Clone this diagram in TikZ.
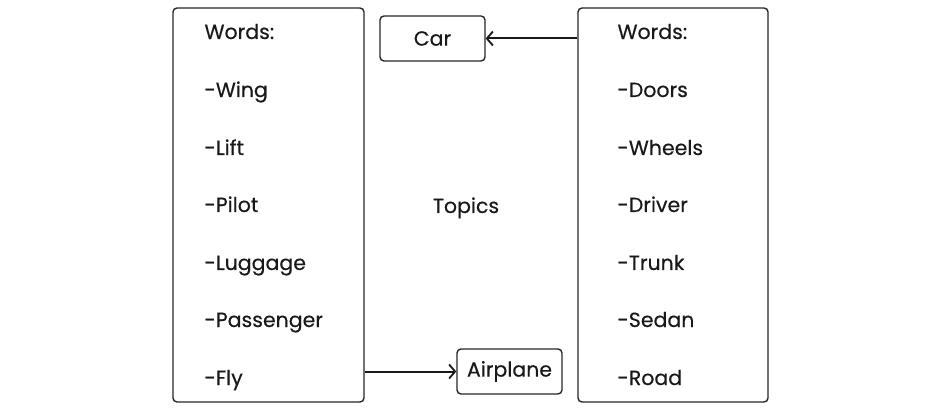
\documentclass[tikz,border=0pt]{standalone}
\usepackage{fontspec}
\setmainfont{Poppins}[BoldFont=Poppins,BoldFeatures={FakeBold=0.35}]
\usetikzlibrary{arrows.meta}
\begin{document}
\begin{tikzpicture}[x=1pt,y=-1pt,
  box/.style={draw=black!85,line width=1.4pt,rounded corners=4pt},
  word/.style={anchor=base west,font=\fontsize{20.5}{24}\bfseries\selectfont,text=black!90},
  lbl/.style={font=\fontsize{20.5}{24}\bfseries\selectfont,text=black!90},
  conn/.style={draw=black!90,line width=2pt,-{Straight Barb[length=6pt,width=14pt,line width=1.8pt]}}]
\useasboundingbox (0,0) rectangle (944,411);
% boxes
\node[box,minimum width=191pt,minimum height=394pt,inner sep=0pt] (left) at (268.5,205) {};
\node[box,minimum width=190pt,minimum height=394pt,inner sep=0pt] (right) at (673,205) {};
\node[box,lbl,minimum width=105pt,minimum height=45pt,inner sep=0pt] (car) at (432.5,38.5) {Car};
\node[box,lbl,minimum width=105pt,minimum height=45pt,inner sep=0pt] (plane) at (509.5,371.5) {Airplane};
\node[lbl,anchor=base] (topics) at (466,213) {Topics};
% left words
\node[word] (l0) at (201,39) {Words:};
\node[word] (l1) at (201,97) {-Wing};
\node[word] (l2) at (201,155) {-Lift};
\node[word] (l3) at (201,212) {-Pilot};
\node[word] (l4) at (201,270) {-Luggage};
\node[word] (l5) at (201,327) {-Passenger};
\node[word] (l6) at (201,385) {-Fly};
% right words
\node[word] (r0) at (614,39) {Words:};
\node[word] (r1) at (614,97) {-Doors};
\node[word] (r2) at (614,155) {-Wheels};
\node[word] (r3) at (614,212) {-Driver};
\node[word] (r4) at (614,270) {-Trunk};
\node[word] (r5) at (614,327) {-Sedan};
\node[word] (r6) at (614,385) {-Road};
% connectors
\draw[conn] (right.west |- car.east) -- (car.east);
\draw[conn] (left.east |- plane.west) -- (plane.west);
\end{tikzpicture}
\end{document}
